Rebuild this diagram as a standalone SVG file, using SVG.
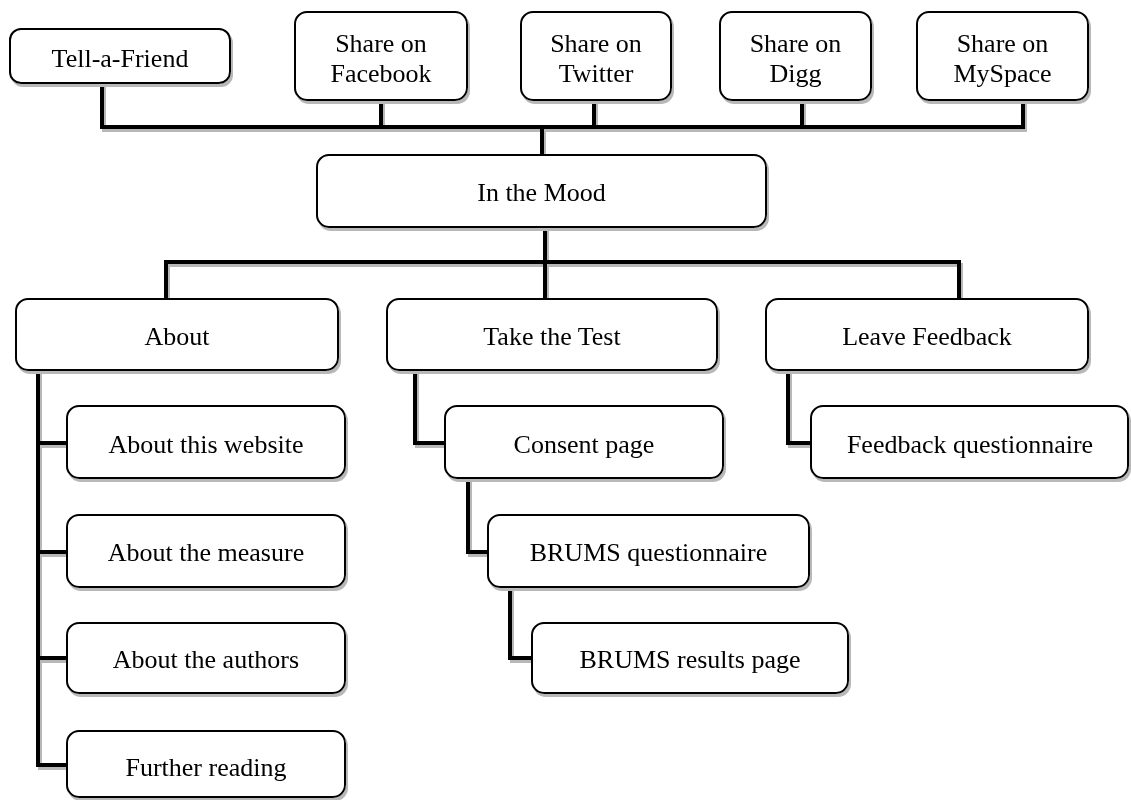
<svg xmlns="http://www.w3.org/2000/svg" width="1131" height="800" viewBox="0 0 1131 800">
  <defs>
    <filter id="shadow" x="-5%" y="-5%" width="115%" height="125%">
      <feDropShadow dx="2" dy="3" stdDeviation="0.6" flood-color="#b8b8b8" flood-opacity="1"/>
    </filter>
  </defs>
  <style>
    .box { fill: #ffffff; stroke: #000000; stroke-width: 2; }
    .lbl { font-family: "Liberation Serif", "Times New Roman", serif; font-size: 26px; fill: #000000; text-anchor: middle; }
    .wire { fill: none; stroke: #000000; stroke-width: 4; stroke-linejoin: miter; stroke-linecap: butt; }
  </style>
  <rect width="1131" height="800" fill="#ffffff"/>

  <!-- connectors -->
  <g id="connectors" filter="url(#shadow)">
    <path class="wire" d="M102 83 V127 H1023 V100"/>
    <path class="wire" d="M381 100 V127"/>
    <path class="wire" d="M594 100 V127"/>
    <path class="wire" d="M802 100 V127"/>
    <path class="wire" d="M542 127 V155"/>
    <path class="wire" d="M545 227 V262"/>
    <path class="wire" d="M166 299 V262 H959 V299"/>
    <path class="wire" d="M545 262 V299"/>
    <path class="wire" d="M38 370 V765 H67"/>
    <path class="wire" d="M38 443 H67"/>
    <path class="wire" d="M38 552 H67"/>
    <path class="wire" d="M38 658 H67"/>
    <path class="wire" d="M415 370 V443 H445"/>
    <path class="wire" d="M468 478 V552 H488"/>
    <path class="wire" d="M510 587 V658 H532"/>
    <path class="wire" d="M788 370 V443 H811"/>
  </g>

  <!-- share row -->
  <g id="tell-a-friend" filter="url(#shadow)">
    <rect class="box" x="10" y="29" width="220" height="54" rx="11"/>
    <text class="lbl" x="120" y="67">Tell-a-Friend</text>
  </g>
  <g id="share-facebook" filter="url(#shadow)">
    <rect class="box" x="295" y="12" width="172" height="88" rx="12"/>
    <text class="lbl" x="381" y="52">Share on</text>
    <text class="lbl" x="381" y="82">Facebook</text>
  </g>
  <g id="share-twitter" filter="url(#shadow)">
    <rect class="box" x="521" y="12" width="150" height="88" rx="12"/>
    <text class="lbl" x="596" y="52">Share on</text>
    <text class="lbl" x="596" y="82">Twitter</text>
  </g>
  <g id="share-digg" filter="url(#shadow)">
    <rect class="box" x="720" y="12" width="151" height="88" rx="12"/>
    <text class="lbl" x="795.5" y="52">Share on</text>
    <text class="lbl" x="795.5" y="82">Digg</text>
  </g>
  <g id="share-myspace" filter="url(#shadow)">
    <rect class="box" x="917" y="12" width="171" height="88" rx="12"/>
    <text class="lbl" x="1002.5" y="52">Share on</text>
    <text class="lbl" x="1002.5" y="82">MySpace</text>
  </g>

  <!-- home -->
  <g id="in-the-mood" filter="url(#shadow)">
    <rect class="box" x="317" y="155" width="449" height="72" rx="12"/>
    <text class="lbl" x="541.5" y="201">In the Mood</text>
  </g>

  <!-- sections -->
  <g id="about" filter="url(#shadow)">
    <rect class="box" x="16" y="299" width="322" height="71" rx="12"/>
    <text class="lbl" x="177" y="345">About</text>
  </g>
  <g id="take-the-test" filter="url(#shadow)">
    <rect class="box" x="387" y="299" width="330" height="71" rx="12"/>
    <text class="lbl" x="552" y="345">Take the Test</text>
  </g>
  <g id="leave-feedback" filter="url(#shadow)">
    <rect class="box" x="766" y="299" width="322" height="71" rx="12"/>
    <text class="lbl" x="927" y="345">Leave Feedback</text>
  </g>

  <!-- about pages -->
  <g id="about-website" filter="url(#shadow)">
    <rect class="box" x="67" y="406" width="278" height="72" rx="12"/>
    <text class="lbl" x="206" y="453">About this website</text>
  </g>
  <g id="about-measure" filter="url(#shadow)">
    <rect class="box" x="67" y="515" width="278" height="72" rx="12"/>
    <text class="lbl" x="206" y="561">About the measure</text>
  </g>
  <g id="about-authors" filter="url(#shadow)">
    <rect class="box" x="67" y="623" width="278" height="70" rx="12"/>
    <text class="lbl" x="206" y="668">About the authors</text>
  </g>
  <g id="further-reading" filter="url(#shadow)">
    <rect class="box" x="67" y="731" width="278" height="66" rx="12"/>
    <text class="lbl" x="206" y="776">Further reading</text>
  </g>

  <!-- test flow -->
  <g id="consent-page" filter="url(#shadow)">
    <rect class="box" x="445" y="406" width="278" height="72" rx="12"/>
    <text class="lbl" x="584" y="453">Consent page</text>
  </g>
  <g id="brums-questionnaire" filter="url(#shadow)">
    <rect class="box" x="488" y="515" width="321" height="72" rx="12"/>
    <text class="lbl" x="648.5" y="561">BRUMS questionnaire</text>
  </g>
  <g id="brums-results" filter="url(#shadow)">
    <rect class="box" x="532" y="623" width="316" height="70" rx="12"/>
    <text class="lbl" x="690" y="668">BRUMS results page</text>
  </g>

  <!-- feedback -->
  <g id="feedback-questionnaire" filter="url(#shadow)">
    <rect class="box" x="811" y="406" width="317" height="72" rx="12"/>
    <text class="lbl" x="970" y="453">Feedback questionnaire</text>
  </g>
</svg>
